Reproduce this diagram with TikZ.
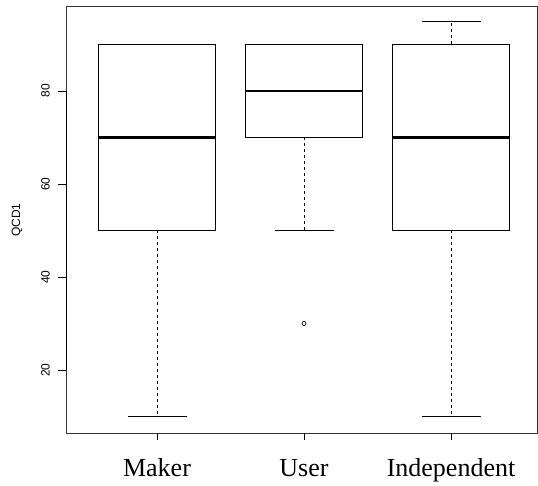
\documentclass[tikz,border=0pt]{standalone}
\usepackage{fontspec}
\setmainfont{Liberation Serif}
\newfontfamily\axisfont{Liberation Sans}
\usetikzlibrary{positioning}

\begin{document}
\begin{tikzpicture}[
    x=1pt, y=1pt,
    frame/.style={draw=black!80, line width=0.9pt},
    boxline/.style={draw, line width=0.8pt},
    median/.style={line width=2.2pt},
    whisker/.style={line width=0.8pt, dash pattern=on 3pt off 3pt},
    capline/.style={line width=0.8pt},
    ticklabel/.style={font=\axisfont\fontsize{12}{13}\selectfont, rotate=90},
    grouplabel/.style={font=\fontsize{26}{28}\selectfont, anchor=base}
]
    \useasboundingbox (0,0) rectangle (538,485);

    % plot region
    \draw[frame] (66,52) rectangle (537,479);
    \node[ticklabel] (ylab) at (17,265) {QCD1};

    \begin{scope}[yshift=22pt, y=4.65pt]
        % y axis
        \draw[line width=0.8pt] (66,20) -- (66,80);
        \draw[line width=0.8pt] (66,20) -- (58,20) (66,40) -- (58,40)
            (66,60) -- (58,60) (66,80) -- (58,80);
        \node[ticklabel] (t20) at (45.5,20) {20};
        \node[ticklabel] (t40) at (45.5,40) {40};
        \node[ticklabel] (t60) at (45.5,60) {60};
        \node[ticklabel] (t80) at (45.5,80) {80};

        % Maker
        \draw[whisker] (157,50) -- (157,10);
        \draw[capline] (127.5,10) -- (186.5,10);
        \draw[capline] (127.5,90) -- (186.5,90);
        \draw[boxline] (98.5,50) rectangle (215.5,90);
        \draw[median] (98.5,70) -- (215.5,70);

        % User
        \draw[whisker] (304,70) -- (304,50);
        \draw[capline] (274.5,50) -- (333.5,50);
        \draw[capline] (274.5,90) -- (333.5,90);
        \draw[boxline] (245.5,70) rectangle (362.5,90);
        \draw[median] (245.5,80) -- (362.5,80);
        \draw[line width=0.7pt] (304,30) circle (2pt);

        % Independent
        \draw[whisker] (451,50) -- (451,10);
        \draw[whisker] (451,90) -- (451,95);
        \draw[capline] (421.5,10) -- (480.5,10);
        \draw[capline] (421.5,95) -- (480.5,95);
        \draw[boxline] (392.5,50) rectangle (509.5,90);
        \draw[median] (392.5,70) -- (509.5,70);
    \end{scope}

    % x axis
    \draw[line width=0.8pt] (157,52) -- (157,45) (304,52) -- (304,45) (451,52) -- (451,45);
    \node[grouplabel] (maker) at (157,8.5) {Maker};
    \node[grouplabel] (user) at (304,8.5) {User};
    \node[grouplabel] (indep) at (451,8.5) {Independent};
\end{tikzpicture}
\end{document}
